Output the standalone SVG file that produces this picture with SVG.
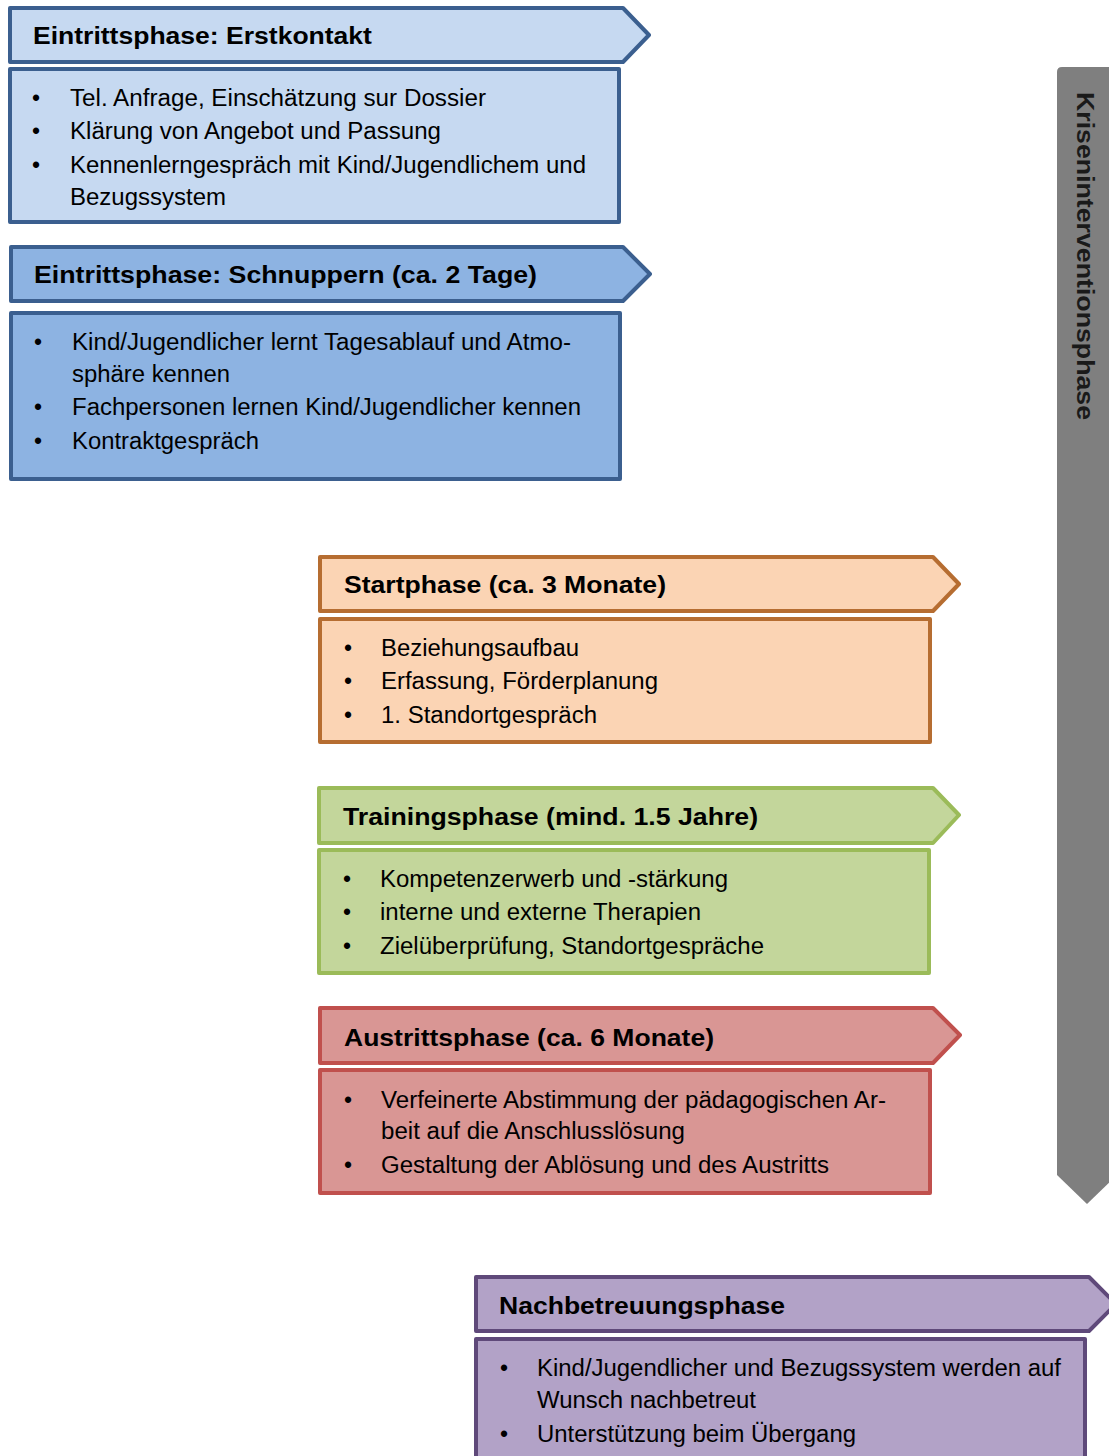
<svg xmlns="http://www.w3.org/2000/svg" width="1109" height="1456" viewBox="0 0 1109 1456">
<style>
.hd{font-family:"Liberation Sans",Arial,sans-serif;font-weight:bold;font-size:23px;fill:#000}
.tx{font-family:"Liberation Sans",Arial,sans-serif;font-size:23px;fill:#000}
.sh{stroke-width:4;stroke-linejoin:round}
.b1{fill:#c6d9f1;stroke:#3b5f8f}
.b2{fill:#8db3e2;stroke:#3b5f8f}
.or{fill:#fbd4b4;stroke:#b66d31}
.gr{fill:#c3d69b;stroke:#9bbb59}
.rd{fill:#d99694;stroke:#c0504d}
.pu{fill:#b2a2c7;stroke:#5f497a}
.bar{fill:#7f7f7f}
.vt{font-family:"Liberation Sans",Arial,sans-serif;font-weight:bold;font-size:23px;fill:#1a1a1a}
</style>
<g id="krisenintervention">
<path class="bar" d="M1057,72 Q1057,67 1062,67 L1117,67 L1117,1175 L1087,1204 L1057,1175 Z"/>
<text class="vt" transform="translate(1077,92) rotate(90) scale(1.16,1)" textLength="282.8" lengthAdjust="spacingAndGlyphs">Kriseninterventionsphase</text>
</g>
<g id="erstkontakt">
<path class="sh b1" d="M10,8 L623,8 L649,35 L623,62 L10,62 Z"/>
<text class="hd" transform="translate(33,44) scale(1.16,1)" textLength="292.2" lengthAdjust="spacingAndGlyphs">Eintrittsphase: Erstkontakt</text>
<rect class="sh b1" x="10" y="69" width="609" height="153"/>
<text class="tx" x="32" y="106">•</text><text class="tx" x="70" y="106" textLength="416" lengthAdjust="spacingAndGlyphs">Tel. Anfrage, Einschätzung sur Dossier</text>
<text class="tx" x="32" y="139">•</text><text class="tx" x="70" y="139" textLength="371" lengthAdjust="spacingAndGlyphs">Klärung von Angebot und Passung</text>
<text class="tx" x="32" y="173">•</text><text class="tx" x="70" y="173" textLength="516" lengthAdjust="spacingAndGlyphs">Kennenlerngespräch mit Kind/Jugendlichem und</text>
<text class="tx" x="70" y="205" textLength="156" lengthAdjust="spacingAndGlyphs">Bezugssystem</text>
</g>
<g id="schnuppern">
<path class="sh b2" d="M11,247 L623,247 L650,274 L623,301 L11,301 Z"/>
<text class="hd" transform="translate(34,283) scale(1.16,1)" textLength="433.6" lengthAdjust="spacingAndGlyphs">Eintrittsphase: Schnuppern (ca. 2 Tage)</text>
<rect class="sh b2" x="11" y="313" width="609" height="166"/>
<text class="tx" x="34" y="350">•</text><text class="tx" x="72" y="350" textLength="499" lengthAdjust="spacingAndGlyphs">Kind/Jugendlicher lernt Tagesablauf und Atmo-</text>
<text class="tx" x="72" y="382" textLength="158" lengthAdjust="spacingAndGlyphs">sphäre kennen</text>
<text class="tx" x="34" y="415">•</text><text class="tx" x="72" y="415" textLength="509" lengthAdjust="spacingAndGlyphs">Fachpersonen lernen Kind/Jugendlicher kennen</text>
<text class="tx" x="34" y="449">•</text><text class="tx" x="72" y="449" textLength="187" lengthAdjust="spacingAndGlyphs">Kontraktgespräch</text>
</g>
<g id="startphase">
<path class="sh or" d="M320,557 L933,557 L959,584 L933,611 L320,611 Z"/>
<text class="hd" transform="translate(344,593) scale(1.16,1)" textLength="277.6" lengthAdjust="spacingAndGlyphs">Startphase (ca. 3 Monate)</text>
<rect class="sh or" x="320" y="619" width="610" height="123"/>
<text class="tx" x="344" y="656">•</text><text class="tx" x="381" y="656" textLength="198" lengthAdjust="spacingAndGlyphs">Beziehungsaufbau</text>
<text class="tx" x="344" y="689">•</text><text class="tx" x="381" y="689" textLength="277" lengthAdjust="spacingAndGlyphs">Erfassung, Förderplanung</text>
<text class="tx" x="344" y="723">•</text><text class="tx" x="381" y="723" textLength="216" lengthAdjust="spacingAndGlyphs">1. Standortgespräch</text>
</g>
<g id="trainingsphase">
<path class="sh gr" d="M319,788 L933,788 L959,815 L933,843 L319,843 Z"/>
<text class="hd" transform="translate(343,825) scale(1.16,1)" textLength="357.8" lengthAdjust="spacingAndGlyphs">Trainingsphase (mind. 1.5 Jahre)</text>
<rect class="sh gr" x="319" y="850" width="610" height="123"/>
<text class="tx" x="343" y="887">•</text><text class="tx" x="380" y="887" textLength="348" lengthAdjust="spacingAndGlyphs">Kompetenzerwerb und -stärkung</text>
<text class="tx" x="343" y="920">•</text><text class="tx" x="380" y="920" textLength="321" lengthAdjust="spacingAndGlyphs">interne und externe Therapien</text>
<text class="tx" x="343" y="954">•</text><text class="tx" x="380" y="954" textLength="384" lengthAdjust="spacingAndGlyphs">Zielüberprüfung, Standortgespräche</text>
</g>
<g id="austrittsphase">
<path class="sh rd" d="M320,1008 L933,1008 L960,1035 L933,1063 L320,1063 Z"/>
<text class="hd" transform="translate(344,1046) scale(1.16,1)" textLength="319" lengthAdjust="spacingAndGlyphs">Austrittsphase (ca. 6 Monate)</text>
<rect class="sh rd" x="320" y="1070" width="610" height="123"/>
<text class="tx" x="344" y="1108">•</text><text class="tx" x="381" y="1108" textLength="505" lengthAdjust="spacingAndGlyphs">Verfeinerte Abstimmung der pädagogischen Ar-</text>
<text class="tx" x="381" y="1139" textLength="304" lengthAdjust="spacingAndGlyphs">beit auf die Anschlusslösung</text>
<text class="tx" x="344" y="1173">•</text><text class="tx" x="381" y="1173" textLength="448" lengthAdjust="spacingAndGlyphs">Gestaltung der Ablösung und des Austritts</text>
</g>
<g id="nachbetreuung">
<path class="sh pu" d="M476,1277 L1089,1277 L1116,1304 L1089,1331 L476,1331 Z"/>
<text class="hd" transform="translate(499,1314) scale(1.16,1)" textLength="246.6" lengthAdjust="spacingAndGlyphs">Nachbetreuungsphase</text>
<rect class="sh pu" x="476" y="1339" width="609" height="130"/>
<text class="tx" x="500" y="1376">•</text><text class="tx" x="537" y="1376" textLength="524" lengthAdjust="spacingAndGlyphs">Kind/Jugendlicher und Bezugssystem werden auf</text>
<text class="tx" x="537" y="1408" textLength="219" lengthAdjust="spacingAndGlyphs">Wunsch nachbetreut</text>
<text class="tx" x="500" y="1442">•</text><text class="tx" x="537" y="1442" textLength="319" lengthAdjust="spacingAndGlyphs">Unterstützung beim Übergang</text>
</g>
<g id="connectors"/>
</svg>
